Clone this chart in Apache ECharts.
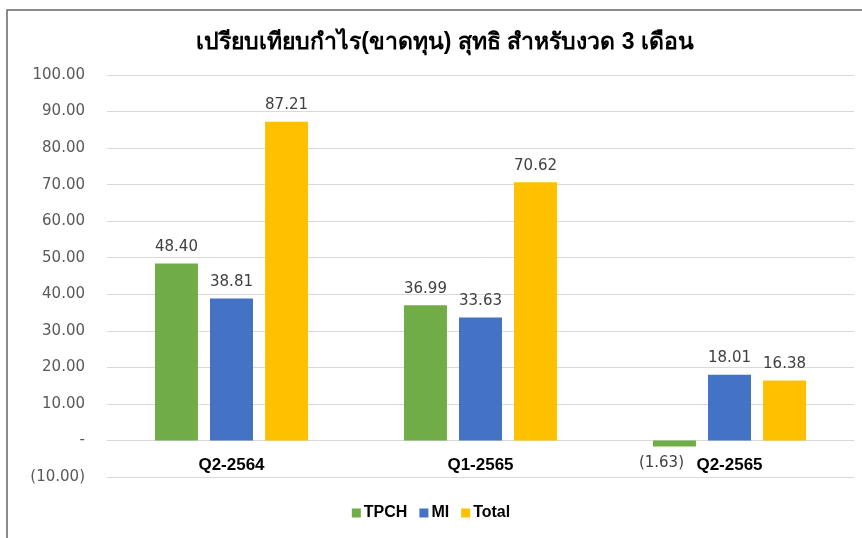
<!DOCTYPE html>
<html><head><meta charset="utf-8">
<script src="https://cdn.jsdelivr.net/npm/echarts@6/dist/echarts.min.js"></script>
<style>html,body{margin:0;padding:0;background:#fff}#c{width:862px;height:538px}</style>
</head><body><div id="c"></div>
<script>
const categories = ['Q2-2564', 'Q1-2565', 'Q2-2565'];
const seriesNames = ['TPCH', 'MI', 'Total'];
const tpch = [48.40, 36.99, -1.63];
const mi = [38.81, 33.63, 18.01];
const total = [87.21, 70.62, 16.38];
const yTicks = [-10, 0, 10, 20, 30, 40, 50, 60, 70, 80, 90, 100];
const titleText = 'เปรียบเทียบกำไร(ขาดทุน) สุทธิ สำหรับงวด 3 เดือน';

const colors = ['#70AD47', '#4472C4', '#FFC000'];
const numFont = 'DejaVu Sans';
const boldFont = '"Liberation Sans Narrow", "Liberation Sans", sans-serif';

function fmt(v) {
  if (Math.abs(v) < 1e-9) return '-';
  if (v < 0) return '(' + Math.abs(v).toFixed(2) + ')';
  return v.toFixed(2);
}

function mk(name, vals, color) {
  return {
    name: name, type: 'bar', barWidth: 43, barGap: '28%',
    itemStyle: { color: color },
    data: vals.map(v => ({
      value: v,
      label: v < 0 ? { position: 'bottom', offset: [-13, 0] } : { position: 'top' }
    })),
    label: {
      show: true, distance: 9, fontFamily: numFont, fontSize: 15, color: '#404040',
      formatter: p => fmt(p.value)
    }
  };
}

const chart = echarts.init(document.getElementById('c'));
chart.setOption({
  animation: false,
  backgroundColor: '#fff',
  title: {
    text: titleText, left: 440, textAlign: 'center', top: 26,
    textStyle: { fontSize: 23, fontWeight: 'bold', color: '#000', fontFamily: boldFont }
  },
  graphic: [{
    type: 'rect', shape: { x: 7, y: 10, width: 900, height: 600 },
    style: { fill: 'none', stroke: '#666', lineWidth: 1.5 }, silent: true
  }],
  legend: {
    data: seriesNames, bottom: 12, left: 'center', itemWidth: 9, itemHeight: 9, itemGap: 12,
    icon: 'rect',
    textStyle: { fontFamily: boldFont, fontWeight: 'bold', fontSize: 16, color: '#000', padding: [0,0,0,-2] }
  },
  grid: { left: 107, right: 8, top: 75, bottom: 61 },
  xAxis: {
    type: 'category', data: categories,
    axisLine: { onZero: true, lineStyle: { color: '#d9d9d9', width: 1 } },
    axisTick: { show: false },
    axisLabel: { fontFamily: boldFont, fontWeight: 'bold', fontSize: 17, color: '#000', margin: -20 }
  },
  yAxis: {
    type: 'value', min: yTicks[0], max: yTicks[yTicks.length - 1], interval: 10,
    axisLine: { show: false }, axisTick: { show: false },
    splitLine: { lineStyle: { color: '#d9d9d9', width: 1 } },
    axisLabel: { fontFamily: numFont, fontSize: 15, color: '#595959', margin: 22, formatter: v => fmt(v) }
  },
  series: [mk(seriesNames[0], tpch, colors[0]), mk(seriesNames[1], mi, colors[1]), mk(seriesNames[2], total, colors[2])]
});
</script></body></html>
